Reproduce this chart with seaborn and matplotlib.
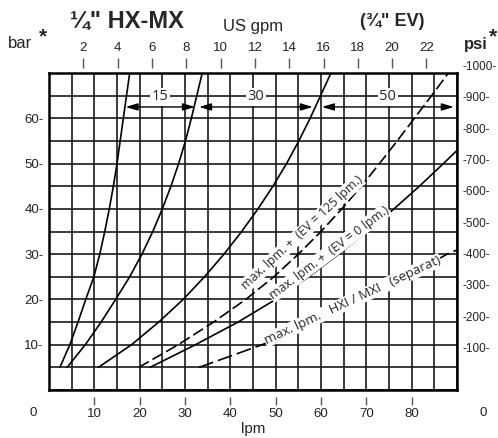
import matplotlib
matplotlib.use("Agg")
import matplotlib.pyplot as plt
import matplotlib.transforms as mtransforms
from matplotlib.ticker import MultipleLocator
import pandas as pd
import seaborn as sns

# pump curves (lpm read at every 5 bar)
pump_bar = [5, 10, 15, 20, 25, 30, 35, 40, 45, 50, 55, 60, 65, 70]
pump15_lpm = [2.4, 4.6, 6.4, 8.1, 9.9, 11.2, 12.3, 13.3, 14.2, 15.0, 15.7, 16.4, 17.1, 17.8]
pump30_lpm = [4.0, 8.0, 11.5, 14.7, 17.8, 20.5, 22.9, 25.0, 26.9, 28.6, 30.1, 31.4, 32.6, 33.8]
pump50_lpm = [10.9, 18.2, 24.2, 29.6, 34.3, 38.6, 42.5, 46.1, 49.4, 52.4, 55.1, 57.6, 59.9, 62.2]

# max. flow limits
ev125_bar = [5, 10, 15, 20, 25, 30, 35, 40, 45, 50, 55, 60, 65, 70]
ev125_lpm = [19.8, 28.5, 36.3, 43.4, 49.6, 55.0, 60.0, 64.6, 68.9, 72.9, 76.8, 80.6, 84.4, 88.1]
ev0_bar = [5, 10, 15, 20, 25, 30, 35, 40, 45, 50, 53]
ev0_lpm = [22.3, 32.3, 41.7, 50.0, 57.3, 63.9, 70.2, 76.1, 81.7, 87.0, 90.1]
hxi_bar = [5, 10, 15, 20, 25, 30, 31.0]
hxi_lpm = [33.1, 47.0, 59.0, 69.5, 79.0, 87.8, 90.2]

# pump size arrows at 62.5 bar
arrow_labels = ["15", "30", "50"]
arrow_start = [16.9, 33.1, 60.2]
arrow_end = [32.2, 58.2, 89.3]
arrow_bar = 62.5

lpm_ticks = [10, 20, 30, 40, 50, 60, 70, 80]
gpm_ticks = [2, 4, 6, 8, 10, 12, 14, 16, 18, 20, 22]
bar_ticks = [10, 20, 30, 40, 50, 60]
psi_ticks = [100, 200, 300, 400, 500, 600, 700, 800, 900, 1000]
LPM_PER_GPM = 3.785

sns.set_theme(style="white")
plt.rcParams["font.family"] = ["Liberation Sans", "DejaVu Sans"]

fig = plt.figure(figsize=(4.98, 4.38), dpi=100)
ax = fig.add_axes([49 / 498, 48 / 438, 408 / 498, 317 / 438])

curves = [
    (pump15_lpm, pump_bar, "-"),
    (pump30_lpm, pump_bar, "-"),
    (pump50_lpm, pump_bar, "-"),
    (ev125_lpm, ev125_bar, (0, (7, 2.5))),
    (ev0_lpm, ev0_bar, "-"),
    (hxi_lpm, hxi_bar, (0, (9, 3))),
]
for xs, ys, ls in curves:
    df = pd.DataFrame({"lpm": xs, "bar": ys})
    sns.lineplot(data=df, x="lpm", y="bar", ax=ax, color="black", lw=1.2,
                 linestyle=ls, sort=False, zorder=3)

ax.set_xlim(0, 90)
ax.set_ylim(0, 70)
ax.set_xlabel("")
ax.set_ylabel("")
ax.xaxis.set_major_locator(MultipleLocator(5))
ax.tick_params(axis="x", length=0, labelbottom=False)
ax.set_yticks(bar_ticks, labels=[f"{v}-" for v in bar_ticks])
ax.yaxis.set_minor_locator(MultipleLocator(5))
ax.tick_params(axis="y", which="both", length=0, pad=4, labelsize=9.5, labelcolor="#222")
ax.grid(which="both", color="#1a1a1a", lw=1.2)
ax.set_axisbelow(True)
for s in ax.spines.values():
    s.set_visible(True)
    s.set_color("black")
    s.set_linewidth(1.8)

# lpm axis below, gpm axis above, both detached from the frame
bot = ax.secondary_xaxis(-0.022)
bot.set_xticks(lpm_ticks)
bot.tick_params(length=6, width=1, color="#555", pad=2, labelsize=9.5, labelcolor="#222")
top = ax.secondary_xaxis(1.016, functions=(lambda l: l / LPM_PER_GPM, lambda g: g * LPM_PER_GPM))
top.set_xticks(gpm_ticks)
top.tick_params(length=7, width=1, color="#555", pad=3, labelsize=9.5, labelcolor="#222")
for sec in (bot, top):
    for s in sec.spines.values():
        s.set_visible(False)

# psi scale on the right
ax2 = ax.twinx()
ax2.set_ylim(-31, 981)
ax2.tick_params(right=False, labelright=False)
for s in ax2.spines.values():
    s.set_visible(False)
trans = mtransforms.blended_transform_factory(ax2.transAxes, ax2.transData)
for p in psi_ticks:
    ax2.text(1.013, p, f"-{p}-", transform=trans, ha="left", va="center",
             fontsize=8.5, color="#222", clip_on=False)

# arrows between pump curves
for lab, x0, x1 in zip(arrow_labels, arrow_start, arrow_end):
    ax.annotate("", xy=(x0, arrow_bar), xytext=(x1, arrow_bar),
                arrowprops=dict(arrowstyle="<|-|>,head_length=0.6,head_width=0.18",
                                color="black", lw=1, shrinkA=0, shrinkB=0), zorder=4)
    ax.text((x0 + x1) / 2, 64.8, lab, ha="center", va="center", fontsize=10.5,
            family="Open Sans", zorder=5,
            bbox=dict(facecolor="white", edgecolor="none", pad=1))

# curve labels
lbl_box = dict(facecolor="white", edgecolor="none", pad=0.5)
ax.text(55.8, 34.7, "max. lpm. +  (EV = 125 lpm.)", rotation=43, ha="center", va="center",
        fontsize=9, family="Open Sans", bbox=lbl_box, zorder=5, rotation_mode="anchor")
ax.text(61.8, 30.3, "max. lpm. +  (EV = 0 lpm.)", rotation=37, ha="center", va="center",
        fontsize=9, family="Open Sans", bbox=lbl_box, zorder=5, rotation_mode="anchor")
ax.text(67.0, 19.8, "max. lpm.   HXI / MXI   (separat)", rotation=25, ha="center", va="center",
        fontsize=9.5, family="Open Sans", bbox=lbl_box, zorder=5, rotation_mode="anchor")

# titles and unit labels
def px(x, y):
    return x / 498, 1 - y / 438

fig.text(*px(127, 21), "\u00bc\" HX-MX", ha="center", va="center", fontsize=17, weight="bold")
fig.text(*px(253, 26), "US gpm", ha="center", va="center", fontsize=12)
fig.text(*px(392, 21), "(\u00be\" EV)", ha="center", va="center", fontsize=13, weight="bold")
fig.text(*px(20, 44), "bar", ha="center", va="center", fontsize=12)
fig.text(*px(43, 37), "*", ha="center", va="center", fontsize=15, weight="bold")
fig.text(*px(476, 44), "psi", ha="center", va="center", fontsize=12, weight="bold")
fig.text(*px(493, 37), "*", ha="center", va="center", fontsize=15, weight="bold")
fig.text(*px(253, 429), "lpm", ha="center", va="center", fontsize=11)
fig.text(*px(33, 413), "0", ha="center", va="center", fontsize=9.5, color="#222")
fig.text(*px(483, 413), "0", ha="center", va="center", fontsize=9.5, color="#222")

fig.savefig("out.png", dpi=100)
